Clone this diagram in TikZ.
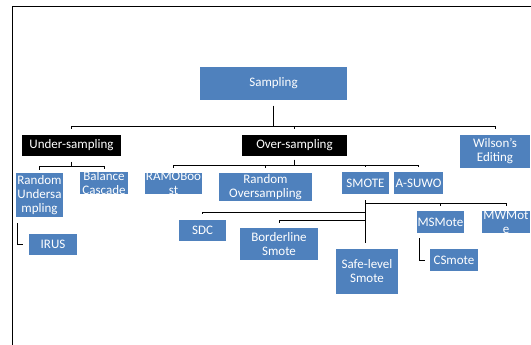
\documentclass[tikz,border=0pt]{standalone}
\usepackage{fontspec}
\setmainfont{Carlito}
\usetikzlibrary{positioning,calc}
\definecolor{boxblue}{RGB}{79,129,189}

\tikzset{
  box/.style={fill=boxblue, inner sep=0pt, outer sep=0pt},
  darkbox/.style={fill=black, inner sep=0pt, outer sep=0pt},
  txt/.style={text=white, font=\fontsize{13}{14}\selectfont, align=center, inner sep=0pt},
  link/.style={draw=black, line width=0.9pt},
}

\begin{document}
\begin{tikzpicture}[x=1pt,y=-1pt]
    \useasboundingbox (0,0) rectangle (531,345);
    \draw[line width=1.2pt] (12.5,345) -- (12.5,6.5) -- (531,6.5);

    % top levels
    \node[box, minimum width=147pt, minimum height=33pt, label={[txt]center:Sampling}]         (samp)   at (273.5,83.5) {};
    \node[darkbox, minimum width=99pt, minimum height=21pt, label={[txt]center:Under-sampling}] (under) at (71.5,145.5) {};
    \node[darkbox, minimum width=105pt, minimum height=21pt, label={[txt]center:Over-sampling}] (over)  at (294.5,145.5) {};
    \node[box, minimum width=70pt, minimum height=33pt, label={[txt]center:Wilson's\\Editing}]  (wilson) at (495,151.5) {};

    % under-sampling
    \node[box, minimum width=47pt, minimum height=44pt, label={[txt]center:Random\\Undersa\\mpling}] (ru)   at (39.5,195) {};
    \node[box, minimum width=48pt, minimum height=22pt, label={[txt]center:Balance\\Cascade}]       (bc)   at (104,183) {};
    \node[box, minimum width=48pt, minimum height=21pt, label={[txt]center:IRUS}]                   (irus) at (53,244.5) {};

    % over-sampling
    \node[box, minimum width=57pt, minimum height=21pt, label={[txt]center:RAMOBoo\\st}]          (ramo)  at (173.5,183.5) {};
    \node[box, minimum width=93pt, minimum height=28pt, label={[txt]center:Random\\Oversampling}] (ros)   at (265.5,187) {};
    \node[box, minimum width=47pt, minimum height=22pt, label={[txt]center:SMOTE}]                (smote) at (365.5,183) {};
    \node[box, minimum width=49pt, minimum height=22pt, label={[txt]center:A-SUWO}]               (asuwo) at (418.5,183) {};

    % smote family
    \node[box, minimum width=47pt, minimum height=21pt, label={[txt]center:SDC}]                  (sdc)  at (202.5,230.5) {};
    \node[box, minimum width=78pt, minimum height=32pt, label={[txt]center:Borderline\\Smote}]    (bsm)  at (279,244) {};
    \node[box, minimum width=62pt, minimum height=45pt, label={[txt]center:Safe-level\\Smote}]    (safe) at (367,271.5) {};
    \node[box, minimum width=47pt, minimum height=22pt, label={[txt]center:MSMote}]               (ms)   at (440.5,222) {};
    \node[box, minimum width=48pt, minimum height=22pt, label={[txt]center:MWMot\\e}]             (mw)   at (506,222) {};
    \node[box, minimum width=48pt, minimum height=22pt, label={[txt]center:CSmote}]               (cs)   at (454,260) {};

    \foreach \c in {under,over,wilson}
      \draw[link] ([yshift=-6pt]samp.south) -- ++(0,20) -| ([yshift=6pt]\c.north);
    \foreach \c in {ru,bc}
      \draw[link] ([yshift=-6pt]under.south) -- ++(0,4) -| ([yshift=2.5pt]\c.north);
    \foreach \c in {ramo,ros,smote,asuwo}
      \draw[link] ([yshift=-4pt]over.south) -- ++(0,5) -| ([yshift=5pt]\c.north);
    \foreach \c in {ms,mw}
      \draw[link] ([yshift=-6pt]smote.south) -- ++(0,3) -| ([yshift=5pt]\c.north);
    \draw[link] ([yshift=-6pt]smote.south) -- ++(0,12) -| ([yshift=6pt]sdc.north);
    \draw[link] ([yshift=-6pt]smote.south) -- ++(0,20) -| ([yshift=5pt]bsm.north);
    \draw[link] ([yshift=-6pt]smote.south) -- ([yshift=6pt]smote.south |- safe.north);
    \draw[link] ([xshift=1pt,yshift=-6pt]ru.south west) |- ([xshift=-6pt]irus.west);
    \draw[link] ([xshift=2pt,yshift=-5pt]ms.south west) |- ([xshift=-5pt]cs.west);
\end{tikzpicture}
\end{document}
